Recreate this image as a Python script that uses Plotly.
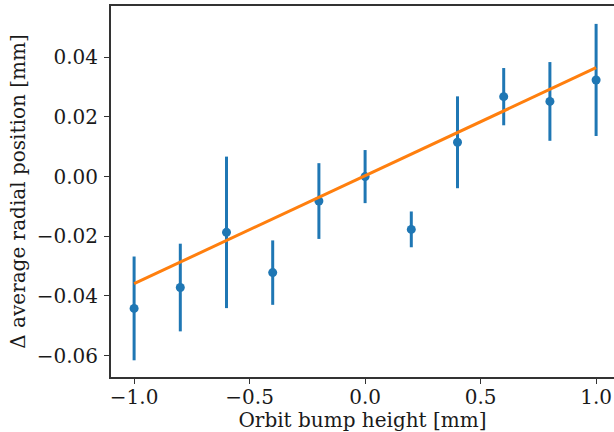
import plotly.graph_objects as go

bump_height = [-1.0, -0.8, -0.6, -0.4, -0.2, 0.0, 0.2, 0.4, 0.6, 0.8, 1.0]
delta_radial = [-0.0442, -0.0372, -0.0187, -0.0322, -0.0082, 0.0000, -0.0177, 0.0115, 0.0268, 0.0252, 0.0324]
delta_err = [0.0174, 0.0147, 0.0254, 0.0108, 0.0127, 0.0089, 0.0060, 0.0154, 0.0096, 0.0132, 0.0188]

fit_x = [-1.0, 1.0]
fit_y = [-0.0359, 0.0365]

x_ticks = [-1.0, -0.5, 0.0, 0.5, 1.0]
y_ticks = [-0.06, -0.04, -0.02, 0.00, 0.02, 0.04]

blue = "#1f77b4"
orange = "#ff7f0e"
font_family = "DejaVu Serif"
fsize = 20

fig = go.Figure()
fig.add_trace(go.Scatter(
    x=bump_height, y=delta_radial, mode="markers",
    marker=dict(color=blue, size=9),
    error_y=dict(type="data", array=delta_err, visible=True, color=blue, thickness=3, width=0),
    showlegend=False,
))
fig.add_trace(go.Scatter(
    x=fit_x, y=fit_y, mode="lines",
    line=dict(color=orange, width=3),
    showlegend=False,
))

axis_common = dict(
    showgrid=False, zeroline=False, showline=True, linecolor="#333333", linewidth=2,
    ticks="outside", ticklen=5, tickwidth=1, tickcolor="#333333", automargin=False,
    tickfont=dict(family=font_family, size=fsize, color="#1a1a1a"),
)
fig.update_xaxes(
    range=[-1.1, 1.0775], tickvals=x_ticks, tickformat=".1f", mirror=True,
    ticklabelstandoff=-4,
    title=dict(text="Orbit bump height [mm]", font=dict(family=font_family, size=fsize, color="#1a1a1a"), standoff=2),
    **axis_common,
)
fig.update_yaxes(
    range=[-0.0672, 0.0572], tickvals=y_ticks, tickformat=".2f",
    ticklabelstandoff=2,
    title=dict(text="Δ average radial position [mm]", font=dict(family=font_family, size=fsize, color="#1a1a1a"), standoff=6),
    **axis_common,
)
fig.update_layout(
    width=614, height=432,
    margin=dict(l=111, r=0, t=6, b=55),
    paper_bgcolor="white", plot_bgcolor="white",
    font=dict(family=font_family, color="#1a1a1a"),
)
fig.write_html(
    "out.html",
    config={"displayModeBar": False},
    post_script="document.body.style.margin='0';document.body.style.overflow='hidden';",
)
